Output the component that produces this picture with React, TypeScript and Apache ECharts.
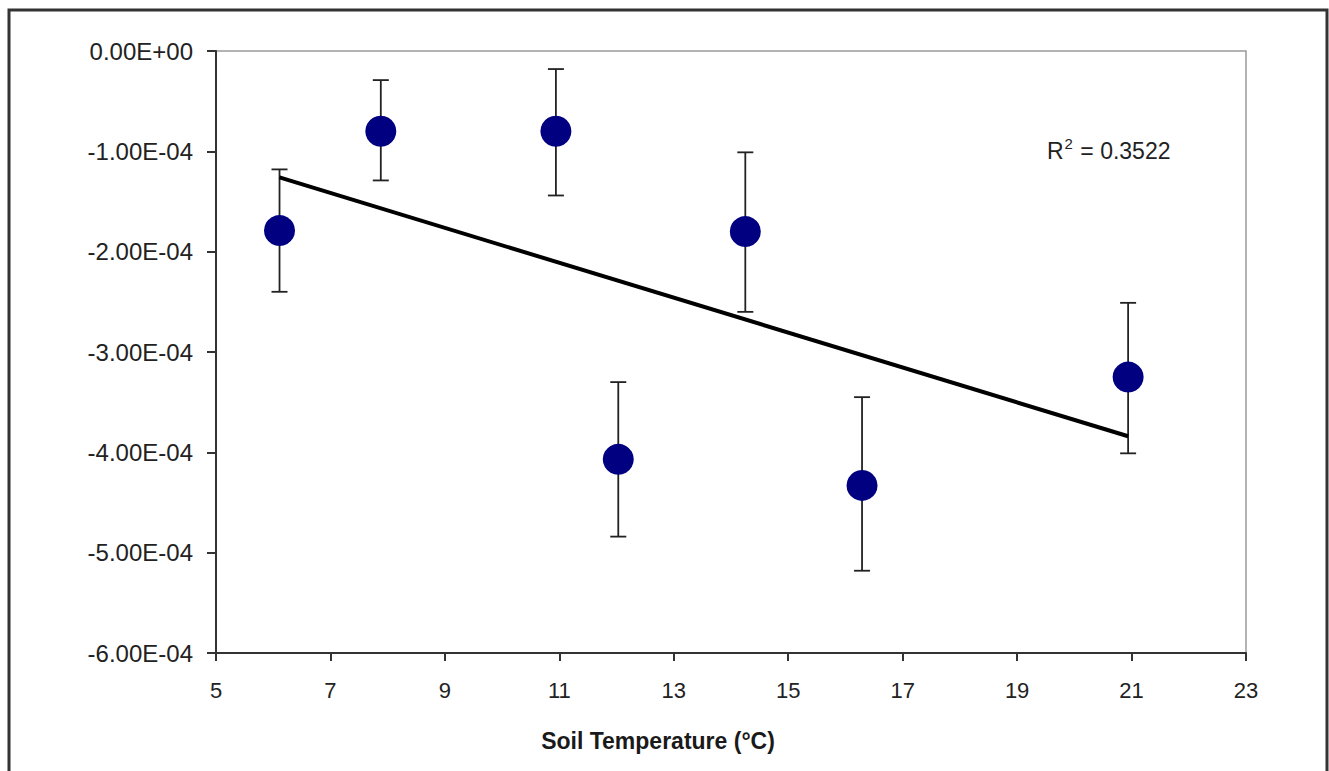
import React, { useEffect, useRef } from "react";
import * as echarts from "echarts";

const temps = [6.11, 7.88, 10.94, 12.03, 14.25, 16.29, 20.94];
const fluxMean = [-1.79e-4, -0.8e-4, -0.8e-4, -4.07e-4, -1.8e-4, -4.33e-4, -3.25e-4];
const fluxHigh = [-1.18e-4, -0.29e-4, -0.18e-4, -3.3e-4, -1.01e-4, -3.45e-4, -2.51e-4];
const fluxLow = [-2.4e-4, -1.29e-4, -1.44e-4, -4.84e-4, -2.6e-4, -5.18e-4, -4.01e-4];
const trendX = [6.11, 20.94];
const trendY = [-1.26e-4, -3.84e-4];
const yTickLabels = ["0.00E+00", "-1.00E-04", "-2.00E-04", "-3.00E-04", "-4.00E-04", "-5.00E-04", "-6.00E-04"];
const xAxisName = "Soil Temperature (°C)";
const rSquared = "0.3522";

export default function App() {
  const ref = useRef<HTMLDivElement>(null);
  useEffect(() => {
    if (!ref.current) return;
    const chart = echarts.init(ref.current, null, { renderer: "svg" });
    const font = "'Liberation Sans', Arial, sans-serif";
    const errData = temps.map((t, i) => [t, fluxLow[i], fluxHigh[i]]);
    chart.setOption({
      animation: false,
      backgroundColor: "#fff",
      grid: {
        left: 216,
        top: 51,
        right: 83,
        bottom: 118,
        show: true,
        borderColor: "#9a9a9a",
        borderWidth: 1.5,
        backgroundColor: "transparent",
      },
      xAxis: {
        type: "value",
        min: 5,
        max: 23,
        interval: 2,
        axisLine: { show: true, onZero: false, lineStyle: { color: "#333", width: 2 } },
        axisTick: { show: true, length: 8, lineStyle: { color: "#333", width: 2 } },
        axisLabel: { fontFamily: font, fontSize: 22, color: "#222", margin: 26 },
        splitLine: { show: false },
      },
      yAxis: {
        type: "value",
        min: -6e-4,
        max: 0,
        interval: 1e-4,
        axisLine: { show: true, onZero: false, lineStyle: { color: "#333", width: 2 } },
        axisTick: { show: true, length: 9, lineStyle: { color: "#333", width: 2 } },
        axisLabel: {
          fontFamily: font,
          fontSize: 24,
          color: "#222",
          margin: 23,
          formatter: (v: number) => yTickLabels[Math.round(-v / 1e-4)] ?? "",
        },
        splitLine: { show: false },
      },
      graphic: [
        {
          type: "rect",
          shape: { x: 9, y: 10, width: 1318, height: 800 },
          style: { fill: "none", stroke: "#333", lineWidth: 3 },
          silent: true,
          z: 100,
        },
        {
          type: "text",
          x: 658,
          y: 741,
          style: {
            text: xAxisName,
            align: "center",
            verticalAlign: "middle",
            fontFamily: font,
            fontSize: 23,
            fontWeight: "bold",
            fill: "#1a1a1a",
          },
          z: 100,
        },
        {
          type: "text",
          x: 1047,
          y: 149,
          style: {
            text: "{a|R}{s|2}{a| = " + rSquared + "}",
            verticalAlign: "middle",
            rich: {
              a: { fontFamily: font, fontSize: 23, fill: "#222", verticalAlign: "bottom", lineHeight: 26 },
              s: { fontFamily: font, fontSize: 15, fill: "#222", verticalAlign: "top", lineHeight: 26, padding: [0, 1, 12, 1] },
            },
          },
          z: 100,
        },
      ],
      series: [
        {
          type: "custom",
          data: errData,
          z: 1,
          renderItem: (params: any, api: any) => {
            const x = api.value(0);
            const top = api.coord([x, api.value(2)]);
            const bot = api.coord([x, api.value(1)]);
            const cap = 8;
            const st = { stroke: "#222", lineWidth: 1.8 };
            return {
              type: "group",
              children: [
                { type: "line", shape: { x1: top[0], y1: top[1], x2: bot[0], y2: bot[1] }, style: st },
                { type: "line", shape: { x1: top[0] - cap, y1: top[1], x2: top[0] + cap, y2: top[1] }, style: st },
                { type: "line", shape: { x1: bot[0] - cap, y1: bot[1], x2: bot[0] + cap, y2: bot[1] }, style: st },
              ],
            };
          },
        },
        {
          type: "line",
          data: trendX.map((x, i) => [x, trendY[i]]),
          symbol: "none",
          lineStyle: { color: "#000", width: 4 },
          z: 2,
        },
        {
          type: "scatter",
          data: temps.map((t, i) => [t, fluxMean[i]]),
          symbol: "circle",
          symbolSize: 31,
          itemStyle: { color: "#000080", opacity: 1 },
          z: 3,
        },
      ],
    });
    return () => chart.dispose();
  }, []);
  return (
    <div
      ref={ref}
      style={{ position: "fixed", left: 0, top: 0, width: 1329, height: 771, background: "#fff" }}
    />
  );
}
